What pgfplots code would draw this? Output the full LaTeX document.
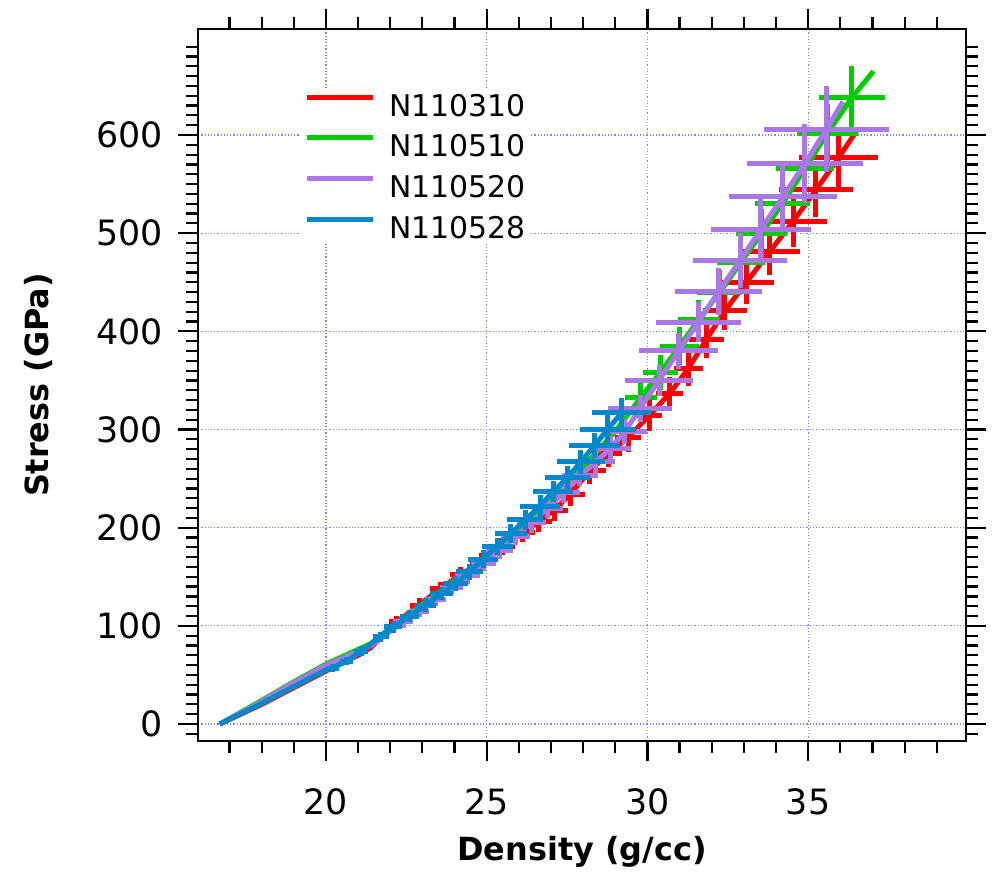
\documentclass[border=0pt]{standalone}
\usepackage{fontspec}
\setmainfont{DejaVu Sans}
\usepackage{pgfplots}
\usepackage{pgfplotstable}
\pgfplotsset{compat=1.18}

\definecolor{cred}{RGB}{255,0,0}
\definecolor{cgreen}{RGB}{0,204,0}
\definecolor{cpurple}{RGB}{170,120,230}
\definecolor{cblue}{RGB}{0,136,204}
\definecolor{cgrid}{RGB}{130,130,255}

\pgfplotstableread{
x y ex ey
16.7 0 0 0
18.0 20 0 0
19.0 37 0 0
20.0 54 0 0
21.0 70 0 0
21.4 78 0 0
22.2 104 0.25 6
22.9 121 0.28 7
23.55 138 0.3 7
24.2 152 0.33 8
24.85 166 0.36 8
25.5 181 0.38 9
26.1 195 0.4 10
26.6 206 0.42 10
27.1 218 0.44 11
27.6 234 0.46 12
28.2 258 0.5 13
28.8 276 0.4 14
29.4 292 0.4 15
30.05 314 0.4 16
30.7 337 0.42 17
31.27 362 0.45 18
31.84 392 0.55 19
32.41 421 0.68 20
33.08 450 0.87 22
33.8 481 0.95 24
34.53 512 1.04 26
35.24 544 1.14 28
35.95 577 1.23 30
36.52 605 0 0
}\redtab

\pgfplotstableread{
x y ex ey
16.7 0 0 0
18.0 24 0 0
19.0 43 0 0
20.0 61 0 0
21.0 76 0 0
21.4 82 0 0
22.0 98 0 0
23.0 122 0 0
24.0 146 0 0
25.0 172 0 0
26.0 200 0 0
27.0 230 0 0
28.0 262 0 0
29.0 298 0 0
29.8 333 0.5 16
30.4 358 0.55 18
31.0 385 0.6 19
31.6 412 0.65 20
32.25 440 0.7 22
32.9 470 0.75 24
33.55 500 0.8 25
34.2 530 0.85 27
34.9 566 0.9 29
35.6 602 0.95 30
36.36 638 1.02 32
37.03 665 0 0
}\greentab

\pgfplotstableread{
x y ex ey
16.7 0 0 0
18.0 23 0 0
19.0 42 0 0
20.0 60 0 0
21.0 74 0 0
21.4 80 0 0
22.4 104 0.3 6
22.9 115 0.32 6
23.4 127 0.34 7
23.9 139 0.36 7
24.4 151 0.38 8
24.9 164 0.4 8
25.4 177 0.42 9
25.9 191 0.44 9
26.4 205 0.46 10
26.9 220 0.48 10
27.4 236 0.5 11
27.9 253 0.55 11
28.4 267 0.6 12
28.85 281 0.64 12
29.3 298 0.7 13
29.77 321.6 1.0 14
30.36 350 1.06 16
30.97 380 1.22 18
31.59 409.5 1.32 20
32.22 441 1.35 24
32.88 472 1.45 28
33.53 504 1.56 32
34.21 537 1.68 36
34.9 571 1.81 40
35.57 606 1.95 44
36.08 634 0 0
}\purpletab

\pgfplotstableread{
x y ex ey
16.7 0 0 0
18.0 21 0 0
19.0 38 0 0
20.0 55 0 0
20.2 57 0.2 4
20.65 64 0.2 4
21.1 74 0.22 5
21.7 89 0.25 5
22.1 99 0.28 6
22.6 110 0.3 6
23.1 121 0.33 7
23.6 133 0.36 7
24.04 143 0.39 8
24.47 155 0.43 8
24.89 168 0.47 9
25.33 181 0.49 9
25.75 194 0.5 10
26.2 208 0.56 10
26.66 222 0.62 11
27.07 237 0.62 11
27.51 251 0.7 12
27.93 267 0.75 12
28.35 283.5 0.79 13
28.77 300.5 0.87 14
29.2 317 0.92 15
}\bluetab

\newcommand{\tickfont}{\fontsize{35}{40}\selectfont}
\newcommand{\legfont}{\fontsize{30}{34}\selectfont}
\newcommand{\labfont}{\fontsize{32}{36}\selectfont\bfseries}

\begin{document}
\begin{tikzpicture}
\begin{axis}[
  scale only axis, width=767.4bp, height=711.4bp,
  xmin=16.03, xmax=39.9, ymin=-17, ymax=707.7,
  xtick={20,25,30,35}, ytick={0,100,200,300,400,500,600},
  minor xtick={17,18,...,39}, minor ytick={-10,0,...,690},
  tick align=outside, xtick pos=both, ytick pos=both,
  major tick length=20bp, minor tick length=12bp,
  every tick/.style={line width=2.2bp, black},
  axis line style={line width=2.2bp, black},
  xmajorgrids, ymajorgrids,
  major grid style={cgrid, line width=1.2bp, dash pattern=on 1.2bp off 2bp},
  /pgf/number format/assume math mode=true,
  ticklabel style={font=\tickfont},
  xticklabel style={anchor=north, inner sep=0pt, yshift=-28bp},
  yticklabel style={anchor=east, inner sep=0pt, xshift=-15bp},
  xlabel={Density (g/cc)},
  ylabel={Stress (GPa)},
  xlabel style={font=\labfont, at={(rel axis cs:0.5,0)}, anchor=base, yshift=-120bp},
  ylabel style={font=\labfont, at={(rel axis cs:0,0.5)}, rotate=0, anchor=base, yshift=150bp},
  legend style={at={(rel axis cs:0.1325,0.9175)}, anchor=north west, draw=none, fill=white,
    font=\legfont, inner xsep=4bp, inner ysep=6bp, row sep=18.9bp, column sep=0bp,
    nodes={inner sep=0pt, text height=21.9bp, text depth=0pt}},
  legend cell align=left,
  legend image code/.code={\draw[#1, line width=5bp] (0bp,8bp) -- (66bp,8bp);},
  every axis plot/.append style={line width=5bp, line join=round, no markers},
]
\addplot[cred, error bars/.cd, x dir=both, x explicit, y dir=both, y explicit,
  error bar style={line width=5bp, cred}, error mark=none]
  table[x=x, y=y, x error=ex, y error=ey] {\redtab};
\addlegendentry{\hspace{14bp}N110310}
\addplot[cgreen, error bars/.cd, x dir=both, x explicit, y dir=both, y explicit,
  error bar style={line width=5bp, cgreen}, error mark=none]
  table[x=x, y=y, x error=ex, y error=ey] {\greentab};
\addlegendentry{\hspace{14bp}N110510}
\addplot[cpurple, error bars/.cd, x dir=both, x explicit, y dir=both, y explicit,
  error bar style={line width=5bp, cpurple}, error mark=none]
  table[x=x, y=y, x error=ex, y error=ey] {\purpletab};
\addlegendentry{\hspace{14bp}N110520}
\addplot[cblue, error bars/.cd, x dir=both, x explicit, y dir=both, y explicit,
  error bar style={line width=5bp, cblue}, error mark=none]
  table[x=x, y=y, x error=ex, y error=ey] {\bluetab};
\addlegendentry{\hspace{14bp}N110528}
\coordinate (SW) at (rel axis cs:0,0);
\coordinate (NE) at (rel axis cs:1,1);
\end{axis}
\pgfresetboundingbox
\path[use as bounding box] ([shift={(-198.3bp,-133.3bp)}]SW) rectangle ([shift={(26.3bp,29.3bp)}]NE);
\end{tikzpicture}
\end{document}
